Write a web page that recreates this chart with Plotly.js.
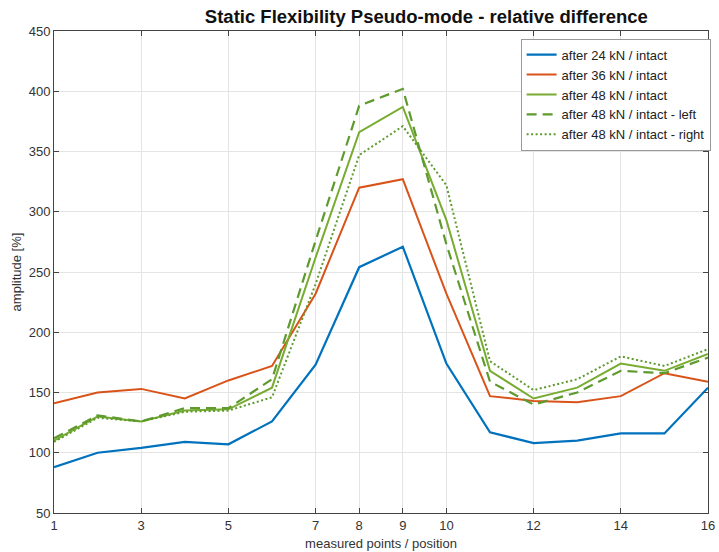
<!DOCTYPE html>
<html>
<head>
<meta charset="utf-8">
<script src="https://cdn.plot.ly/plotly-3.0.1.min.js"></script>
<style>
html,body{margin:0;padding:0;background:#fff;}
#chart{width:719px;height:552px;}
</style>
</head>
<body>
<div id="chart"></div>
<script>
const positions = [1,2,3,4,5,6,7,8,9,10,11,12,13,14,15,16];
const after24 = [88,100,104,109,107,126,173,254,271,174,117,108,110,116,116,154];
const after36 = [141,150,153,145,160,172,232,320,327,232,147,143,142,147,166,159];
const after48 = [110,130,126,135,136,154,262,366,387,293,168,145,154,174,168,182];
const after48Left = [112,131,126,137,137,161,276,388,402,273,159,140,150,168,166,179];
const after48Right = [109,129,126,134,135,146,240,347,371,322,176,152,161,180,172,186];
const xTicks = [1,3,5,7,8,9,10,12,14,16];
const seriesNames = ["after 24 kN / intact","after 36 kN / intact","after 48 kN / intact","after 48 kN / intact - left","after 48 kN / intact - right"];

const traces = [
  {x: positions, y: after24, name: seriesNames[0], mode:'lines', line:{color:'#0072BD', width:2.2}},
  {x: positions, y: after36, name: seriesNames[1], mode:'lines', line:{color:'#D95319', width:2}},
  {x: positions, y: after48, name: seriesNames[2], mode:'lines', line:{color:'#77AC30', width:2}},
  {x: positions, y: after48Left, name: seriesNames[3], mode:'lines', line:{color:'#5E9A2E', width:2.2, dash:'10px,6px'}},
  {x: positions, y: after48Right, name: seriesNames[4], mode:'lines', line:{color:'#5E9A2E', width:2, dash:'2px,2.5px'}}
];

const fam = '"Liberation Sans", Arial, sans-serif';
const layout = {
  width:719, height:552,
  margin:{l:54, r:8, t:31, b:39},
  paper_bgcolor:'#fff', plot_bgcolor:'#fff',
  font:{family:fam, size:12, color:'#333'},
  title:{text:'<b>Static Flexibility Pseudo-mode - relative difference</b>', font:{family:fam, size:18, color:'#111'}, x:0.593, xanchor:'center', y:0.982, yanchor:'top'},
  xaxis:{range:[1,16], tickvals:xTicks, ticktext:xTicks.map(String), ticks:'inside', ticklen:5, tickcolor:'#444', showline:true, linecolor:'#444', linewidth:1, mirror:'ticks', showgrid:true, gridcolor:'#e4e4e4', zeroline:false, tickfont:{size:13, color:'#333'},
    title:{text:'measured points / position', font:{size:13, color:'#333'}, standoff:7}},
  yaxis:{range:[50,450], dtick:50, ticks:'inside', ticklen:5, tickcolor:'#444', showline:true, linecolor:'#444', linewidth:1, mirror:'ticks', showgrid:true, gridcolor:'#e4e4e4', zeroline:false, tickfont:{size:13, color:'#333'},
    title:{text:'amplitude [%]', font:{size:13, color:'#333'}, standoff:4}},
  legend:{x:1.004, y:0.984, xanchor:'right', yanchor:'top', bgcolor:'#fff', bordercolor:'#999', borderwidth:1, font:{size:13, color:'#222'}, itemwidth:30, tracegroupgap:0},
  showlegend:true
};
Plotly.newPlot('chart', traces, layout, {staticPlot:true, displayModeBar:false}).then(function(){
  // condense title glyphs horizontally to mimic the narrow font of the original
  const t = document.querySelector('.gtitle');
  if (t) { t.setAttribute('textLength','443'); t.setAttribute('lengthAdjust','spacingAndGlyphs'); }
});
</script>
</body>
</html>
